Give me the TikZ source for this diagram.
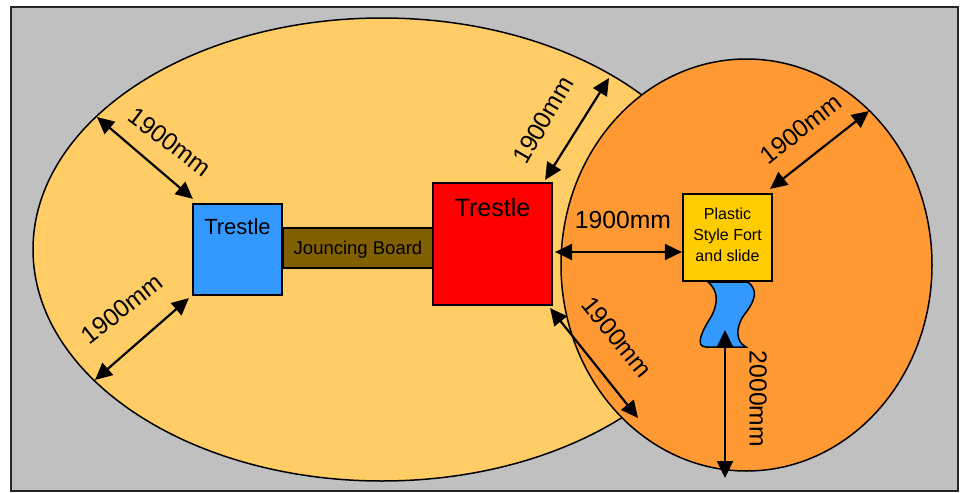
\documentclass[tikz,border=0pt]{standalone}
\usepackage{fontspec}
\setmainfont{Liberation Sans}
\usetikzlibrary{positioning,arrows.meta,shapes.geometric}
\definecolor{yard}{RGB}{192,192,192}
\definecolor{lightzone}{RGB}{255,204,102}
\definecolor{darkzone}{RGB}{255,153,51}
\definecolor{trestleblue}{RGB}{51,153,255}
\definecolor{boardbrown}{RGB}{128,96,0}
\definecolor{fortyellow}{RGB}{255,204,0}
\tikzset{
zone/.style={shape=ellipse, draw=black, line width=1.5pt, inner sep=0pt},
box/.style={shape=rectangle, draw=black, line width=2.2pt, inner sep=0pt},
dim/.style={line width=2.2pt, {Triangle[length=17pt,width=16pt]}-{Triangle[length=17pt,width=16pt]}},
dimtext/.style={font=\fontsize{24.7}{28}\selectfont, inner sep=0pt}
}

\begin{document}
\begin{tikzpicture}[x=1pt, y=-1pt]
          \useasboundingbox (0,0) rectangle (962,493);
          \node[shape=rectangle, draw=black!85, line width=1.5pt, fill=yard, inner sep=0pt, minimum width=947pt, minimum height=484pt] (yardbox) at (484.5,249) {};
          \node[zone, fill=lightzone, minimum width=698pt, minimum height=463pt] (big) at (382,249.5) {};
          \node[zone, fill=darkzone, minimum width=371pt, minimum height=412pt] (small) at (746.5,265) {};
          % slide goes under the fort
          \draw[fill=trestleblue, line width=1.5pt] (708,282) .. controls (720,292) and (717,306) .. (711,317) .. controls (703,329) and (694,347) .. (706,347) -- (746,347) .. controls (736,342) and (735,328) .. (744,315) .. controls (756,300) and (758,290) .. (748,282) -- cycle;
          \node[box, fill=trestleblue, minimum width=89pt, minimum height=91pt, label={[anchor=north, inner sep=0pt, yshift=-15pt, font=\fontsize{22}{26}\selectfont]north:Trestle}] (lefttrestle) at (237.5,249.5) {};
          \node[box, fill=red, minimum width=119pt, minimum height=122pt, label={[anchor=north, inner sep=0pt, yshift=-16pt, font=\fontsize{25}{29}\selectfont]north:Trestle}] (righttrestle) at (492.5,244) {};
          \node[box, fill=boardbrown, minimum width=150pt, minimum height=40pt, label={[inner sep=0pt, yshift=-2pt, font=\fontsize{18.5}{22}\selectfont]center:Jouncing Board}] (board) at (358,248) {};
          \node[box, fill=fortyellow, minimum width=89pt, minimum height=87pt, label={[inner sep=0pt, yshift=3pt, align=center, font=\fontsize{16}{21}\selectfont]center:{Plastic\\Style Fort\\and slide}}] (fort) at (727.5,237.5) {};
          \coordinate (edgeA) at (97,117);
          \coordinate (edgeB) at (95,380);
          \coordinate (edgeC) at (609,78);
          \coordinate (edgeD) at (869,111);
          \coordinate (edgeE) at (638,418);
          \coordinate (edgeF) at (725,478);
          \coordinate (slidetip) at (725,330);
          \draw[dim] (edgeA) -- ([xshift=1pt,yshift=4pt]lefttrestle.north west);
          \draw[dim] (edgeB) -- ([xshift=-3pt,yshift=-2pt]lefttrestle.south west);
          \draw[dim] (edgeC) -- ([xshift=-8pt,yshift=2pt]righttrestle.north east);
          \draw[dim] ([xshift=2pt,yshift=-8pt]righttrestle.east) -- ([yshift=-14.5pt]fort.west);
          \draw[dim] (edgeD) -- ([xshift=-3pt,yshift=4pt]fort.north east);
          \draw[dim] ([xshift=-3pt,yshift=-2pt]righttrestle.south east) -- (edgeE);
          \draw[dim] (slidetip) -- (edgeF);
          \node[dimtext, rotate=-37] (dimA) at (170,142) {1900mm};
          \node[dimtext, rotate=38] (dimB) at (122,309) {1900mm};
          \node[dimtext, rotate=60] (dimC) at (543,120) {1900mm};
          \node[dimtext] (dimD) at (623,220) {1900mm};
          \node[dimtext, rotate=38] (dimE) at (801,129) {1900mm};
          \node[dimtext, rotate=-51] (dimF) at (617,337) {1900mm};
          \node[dimtext, rotate=-90] (dimG) at (758,399) {2000mm};
      \end{tikzpicture}
\end{document}
